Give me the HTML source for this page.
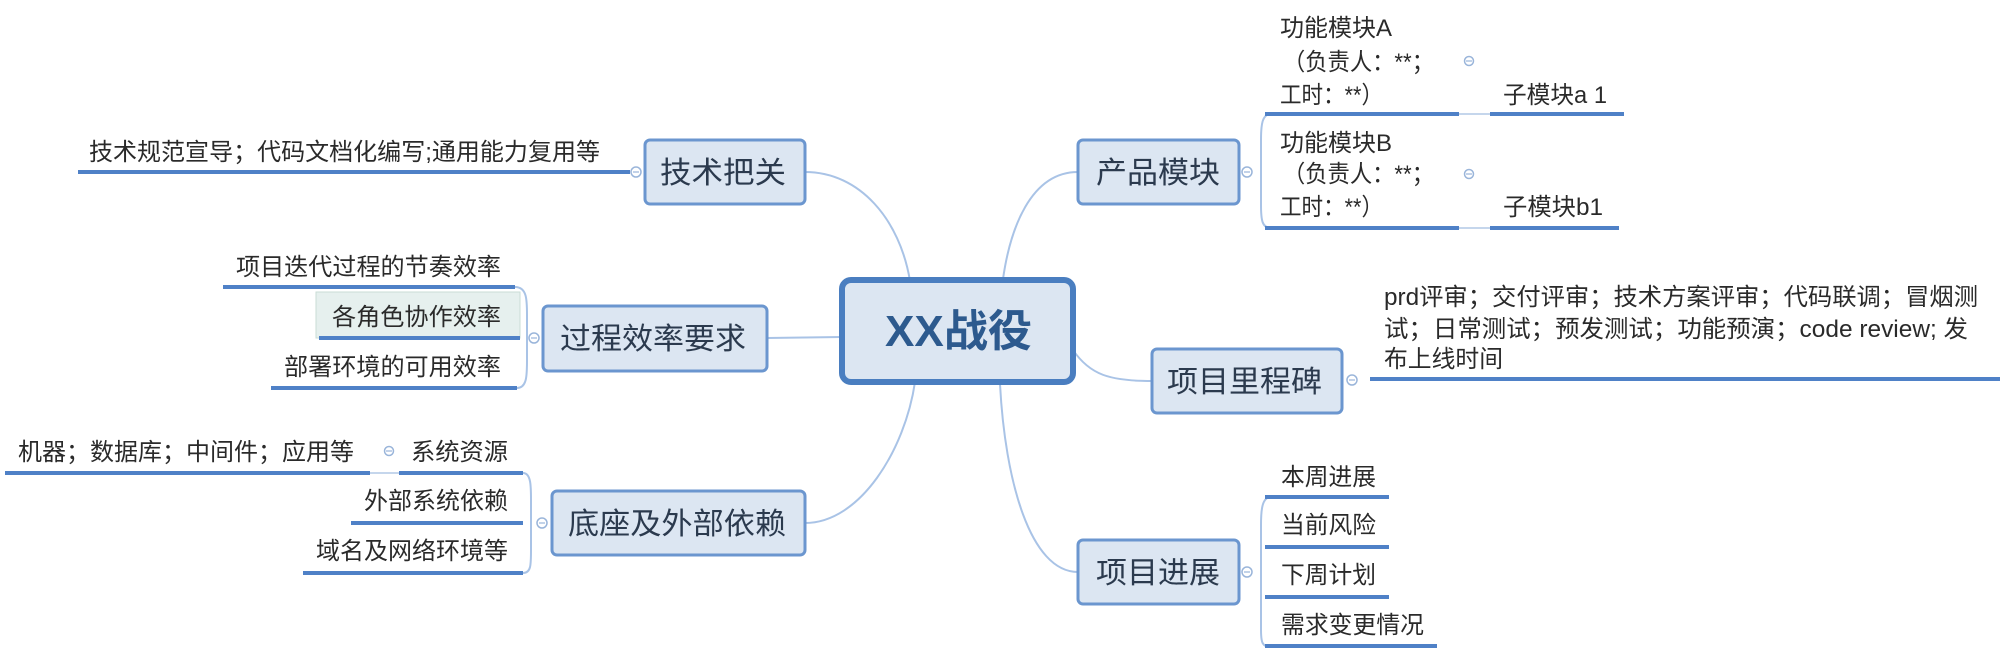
<!DOCTYPE html>
<html><head><meta charset="utf-8">
<style>
html,body{margin:0;padding:0;background:#fff;}
svg{display:block;}
text{font-family:"Liberation Sans","Noto Sans CJK SC",sans-serif;fill:#2a2a2a;}
.leaf{font-size:24px;}
.main{font-size:30px;fill:#2b3a4e;}
.node{fill:#dce6f2;stroke:#6b96cf;stroke-width:3;}
.ul{stroke:#4f81c7;stroke-width:4;}
.ln{stroke:#a9c3e6;stroke-width:2;fill:none;}
.cir{fill:#fff;stroke:#9ab5da;stroke-width:1.5;}
.mn{stroke:#9ab5da;stroke-width:1.2;}
</style></head>
<body>
<svg width="2000" height="648" viewBox="0 0 2000 648" xmlns="http://www.w3.org/2000/svg">
<path class="ln" d="M805 172 C860 172 900 220 910 281"/>
<path class="ln" d="M767 338 L842 337"/>
<path class="ln" d="M805 523 C860 523 905 450 915 382"/>
<path class="ln" d="M1078 172 C1030 172 1010 230 1003 279"/>
<path class="ln" d="M1073 350 C1090 375 1110 381 1152 381"/>
<path class="ln" d="M1078 572 C1030 572 1005 480 1000 384"/>

<rect x="842" y="280" width="231" height="102" rx="9" fill="#dce6f2" stroke="#4a7ec0" stroke-width="6"/>
<text x="885" y="346" font-size="44" font-weight="bold" style="fill:#2d5a8e" textLength="147" lengthAdjust="spacingAndGlyphs">XX战役</text>

<rect class="node" x="645" y="140" width="160" height="64" rx="5"/>
<text class="main" x="660" y="183" textLength="126" lengthAdjust="spacingAndGlyphs">技术把关</text>
<line class="ul" x1="78" y1="172" x2="630" y2="172"/>
<circle class="cir" cx="636" cy="172" r="5"/><line class="mn" x1="633" y1="172" x2="639" y2="172"/>
<text class="leaf" x="89" y="160" textLength="511" lengthAdjust="spacingAndGlyphs">技术规范宣导；代码文档化编写;通用能力复用等</text>

<rect class="node" x="543" y="306" width="224" height="65" rx="5"/>
<text class="main" x="560" y="349" textLength="186" lengthAdjust="spacingAndGlyphs">过程效率要求</text>
<path class="ln" d="M515 287 C527 287 527 300 527 315 L527 360 C527 375 527 388 517 388"/>
<circle class="cir" cx="534" cy="338" r="5"/><line class="mn" x1="531" y1="338" x2="537" y2="338"/>
<rect x="316" y="292" width="204" height="46" fill="#e6f0ee" stroke="#c9dcd6" stroke-width="1"/>
<line class="ul" x1="223" y1="287" x2="515" y2="287"/>
<line class="ul" x1="319" y1="338" x2="520" y2="338"/>
<line class="ul" x1="271" y1="388" x2="517" y2="388"/>
<text class="leaf" x="236" y="275" textLength="265" lengthAdjust="spacingAndGlyphs">项目迭代过程的节奏效率</text>
<text class="leaf" x="332" y="325" textLength="169" lengthAdjust="spacingAndGlyphs">各角色协作效率</text>
<text class="leaf" x="284" y="375" textLength="217" lengthAdjust="spacingAndGlyphs">部署环境的可用效率</text>

<rect class="node" x="552" y="491" width="253" height="64" rx="5"/>
<text class="main" x="568" y="534" textLength="218" lengthAdjust="spacingAndGlyphs">底座及外部依赖</text>
<path class="ln" d="M523 473 C531 473 531 486 531 500 L531 550 C531 565 531 573 523 573"/>
<circle class="cir" cx="542" cy="523" r="5"/><line class="mn" x1="539" y1="523" x2="545" y2="523"/>
<line class="ul" x1="5" y1="473" x2="370" y2="473"/>
<line x1="370" y1="473" x2="399" y2="473" stroke="#c5d6ec" stroke-width="2"/>
<line class="ul" x1="399" y1="473" x2="523" y2="473"/>
<circle class="cir" cx="389" cy="451" r="4.5"/><line class="mn" x1="386" y1="451" x2="392" y2="451"/>
<line class="ul" x1="351" y1="523" x2="523" y2="523"/>
<line class="ul" x1="303" y1="573" x2="523" y2="573"/>
<text class="leaf" x="18" y="460" textLength="336" lengthAdjust="spacingAndGlyphs">机器；数据库；中间件；应用等</text>
<text class="leaf" x="411" y="460" textLength="97" lengthAdjust="spacingAndGlyphs">系统资源</text>
<text class="leaf" x="364" y="509" textLength="144" lengthAdjust="spacingAndGlyphs">外部系统依赖</text>
<text class="leaf" x="316" y="559" textLength="192" lengthAdjust="spacingAndGlyphs">域名及网络环境等</text>

<rect class="node" x="1078" y="140" width="161" height="64" rx="5"/>
<text class="main" x="1096" y="183" textLength="124" lengthAdjust="spacingAndGlyphs">产品模块</text>
<circle class="cir" cx="1247" cy="172" r="5"/><line class="mn" x1="1244" y1="172" x2="1250" y2="172"/>
<path class="ln" d="M1271 114 C1262 114 1261 125 1261 140 L1261 205 C1261 220 1262 228 1271 228"/>
<line class="ul" x1="1265" y1="114" x2="1459" y2="114"/>
<line x1="1459" y1="114" x2="1490" y2="114" stroke="#c5d6ec" stroke-width="2"/>
<line class="ul" x1="1490" y1="114" x2="1624" y2="114"/>
<line class="ul" x1="1265" y1="228" x2="1459" y2="228"/>
<line x1="1459" y1="228" x2="1490" y2="228" stroke="#c5d6ec" stroke-width="2"/>
<line class="ul" x1="1490" y1="228" x2="1619" y2="228"/>
<circle class="cir" cx="1469" cy="61" r="4.5"/><line class="mn" x1="1466" y1="61" x2="1472" y2="61"/>
<circle class="cir" cx="1469" cy="174" r="4.5"/><line class="mn" x1="1466" y1="174" x2="1472" y2="174"/>
<text class="leaf" x="1280" y="36" textLength="112" lengthAdjust="spacingAndGlyphs">功能模块A</text>
<text class="leaf" x="1283" y="70" textLength="151" lengthAdjust="spacingAndGlyphs">（负责人：**；</text>
<text class="leaf" x="1280" y="103" textLength="103" lengthAdjust="spacingAndGlyphs">工时：**）</text>
<text class="leaf" x="1503" y="103" textLength="104" lengthAdjust="spacingAndGlyphs">子模块a 1</text>
<text class="leaf" x="1280" y="151" textLength="112" lengthAdjust="spacingAndGlyphs">功能模块B</text>
<text class="leaf" x="1283" y="182" textLength="151" lengthAdjust="spacingAndGlyphs">（负责人：**；</text>
<text class="leaf" x="1280" y="215" textLength="103" lengthAdjust="spacingAndGlyphs">工时：**）</text>
<text class="leaf" x="1503" y="215" textLength="100" lengthAdjust="spacingAndGlyphs">子模块b1</text>

<rect class="node" x="1152" y="349" width="190" height="64" rx="5"/>
<text class="main" x="1167" y="392" textLength="155" lengthAdjust="spacingAndGlyphs">项目里程碑</text>
<circle class="cir" cx="1352" cy="380" r="5"/><line class="mn" x1="1349" y1="380" x2="1355" y2="380"/>
<line class="ul" x1="1370" y1="379" x2="2000" y2="379"/>
<text class="leaf" x="1384" y="305" textLength="594" lengthAdjust="spacingAndGlyphs">prd评审；交付评审；技术方案评审；代码联调；冒烟测</text>
<text class="leaf" x="1384" y="337" textLength="584" lengthAdjust="spacingAndGlyphs">试；日常测试；预发测试；功能预演；code review; 发</text>
<text class="leaf" x="1384" y="367" textLength="119" lengthAdjust="spacingAndGlyphs">布上线时间</text>

<rect class="node" x="1078" y="540" width="161" height="64" rx="5"/>
<text class="main" x="1096" y="583" textLength="124" lengthAdjust="spacingAndGlyphs">项目进展</text>
<circle class="cir" cx="1247" cy="572" r="5"/><line class="mn" x1="1244" y1="572" x2="1250" y2="572"/>
<path class="ln" d="M1271 497 C1262 497 1261 510 1261 525 L1261 630 C1261 642 1262 647 1271 647"/>
<line class="ul" x1="1265" y1="497" x2="1389" y2="497"/>
<line class="ul" x1="1265" y1="547" x2="1389" y2="547"/>
<line class="ul" x1="1265" y1="597" x2="1389" y2="597"/>
<line class="ul" x1="1265" y1="646" x2="1437" y2="646"/>
<text class="leaf" x="1281" y="485" textLength="95" lengthAdjust="spacingAndGlyphs">本周进展</text>
<text class="leaf" x="1281" y="533" textLength="95" lengthAdjust="spacingAndGlyphs">当前风险</text>
<text class="leaf" x="1281" y="583" textLength="95" lengthAdjust="spacingAndGlyphs">下周计划</text>
<text class="leaf" x="1281" y="633" textLength="143" lengthAdjust="spacingAndGlyphs">需求变更情况</text>
</svg>
</body></html>
